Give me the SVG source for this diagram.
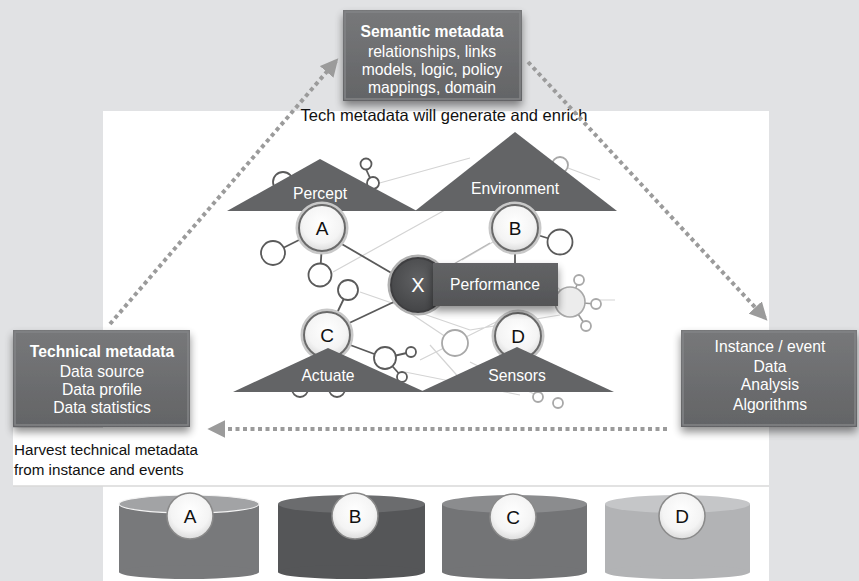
<svg xmlns="http://www.w3.org/2000/svg" width="859" height="581" viewBox="0 0 859 581">
<defs>
<style>
.bt{font-family:"Liberation Sans",Arial,sans-serif;font-size:15.7px;fill:#fff;text-anchor:middle}
.bold{font-weight:bold}
.lbl{font-family:"Liberation Sans",Arial,sans-serif;font-size:15.2px;fill:#111}
.cl{font-family:"Liberation Sans",Arial,sans-serif;font-size:19px;fill:#111;text-anchor:middle}
.tri{fill:#636466}
.nc{fill:#fff;stroke:#5a5a5a;stroke-width:1.8}
.lc{fill:#fff;stroke:#a8a8a8;stroke-width:1.8}
.dl{stroke:#5a5a5a;stroke-width:1.8;fill:none}
.ll{stroke:#d4d4d4;stroke-width:1.2;fill:none}
.dot{stroke:#9b9b9b;stroke-width:4;stroke-dasharray:4 3.5;fill:none}
.ring{fill:url(#wg);stroke:#6a6a6a;stroke-width:2}
.ringo{fill:none;stroke:#c8c8c8;stroke-width:3}
</style>
<linearGradient id="bx" x1="0" y1="0" x2="0" y2="1">
<stop offset="0" stop-color="#77787a"/><stop offset="1" stop-color="#636466"/>
</linearGradient>
<linearGradient id="bx2" x1="0" y1="0" x2="0" y2="1">
<stop offset="0" stop-color="#636466"/><stop offset="1" stop-color="#545557"/>
</linearGradient>
<radialGradient id="wg" cx="0.5" cy="0.4" r="0.6">
<stop offset="0" stop-color="#ffffff"/><stop offset="0.7" stop-color="#f4f4f4"/><stop offset="1" stop-color="#dcdcdc"/>
</radialGradient>
<radialGradient id="xg" cx="0.5" cy="0.4" r="0.6">
<stop offset="0" stop-color="#606163"/><stop offset="1" stop-color="#444547"/>
</radialGradient>
<filter id="sh" x="-20%" y="-20%" width="140%" height="150%">
<feGaussianBlur in="SourceAlpha" stdDeviation="4"/>
<feOffset dx="0" dy="5" result="b"/>
<feComponentTransfer><feFuncA type="linear" slope="0.45"/></feComponentTransfer>
<feMerge><feMergeNode/><feMergeNode in="SourceGraphic"/></feMerge>
</filter>
<marker id="ah" viewBox="0 0 10 10" refX="8" refY="5" markerWidth="4.5" markerHeight="4.5" orient="auto" markerUnits="strokeWidth">
<path d="M0,0 L10,5 L0,10 z" fill="#9b9b9b"/>
</marker>
</defs>

<!-- background -->
<rect x="0" y="0" width="859" height="581" fill="#e1e2e4"/>
<rect x="103" y="111" width="666" height="470" fill="#ffffff"/>
<rect x="13" y="428" width="756" height="58" fill="#ffffff"/>
<line x1="13" y1="486" x2="769" y2="486" stroke="#d8d8d8" stroke-width="1.5"/>

<!-- network background -->
<g id="network">
<path class="ll" d="M376 184 L470 158 M333 272 L445 210 M360 292 L470 330 M395 303 L455 343 M420 360 L500 320 M405 372 L520 395 M462 260 L505 235 M540 270 L570 300 M470 330 L560 315 M600 300 L615 300 M430 345 L470 390 M560 165 L600 180 M470 362 L540 397"/>
<line class="dl" x1="323" y1="228" x2="273" y2="253"/>
<line class="dl" x1="323" y1="228" x2="320" y2="275"/>
<line class="dl" x1="340" y1="243" x2="400" y2="278"/>
<line class="dl" x1="515" y1="228" x2="560" y2="242"/>
<line class="dl" x1="515" y1="250" x2="515" y2="265"/>
<line class="dl" x1="326" y1="336" x2="348" y2="290"/>
<line class="dl" x1="345" y1="325" x2="398" y2="300"/>
<line class="dl" x1="326" y1="336" x2="385" y2="358"/>
<line class="dl" x1="385" y1="358" x2="411" y2="352"/>
<line class="dl" x1="385" y1="358" x2="402" y2="377"/>
<line class="ll" x1="490" y1="243" x2="440" y2="272" style="stroke:#b8b8b8"/>
<path d="M570 302 L579 280 M570 302 L596 304 M570 302 L586 326" stroke="#9a9a9a" stroke-width="1.6"/>
<circle cx="283" cy="182" r="10" class="nc"/>
<circle cx="366" cy="164" r="5.5" class="nc"/>
<circle cx="373" cy="183" r="6" class="nc"/>
<line class="dl" x1="366" y1="169" x2="370" y2="178"/>
<circle cx="560" cy="165" r="8" class="lc"/>
<circle cx="273" cy="253" r="12" class="nc"/>
<circle cx="320" cy="275" r="11.5" class="nc"/>
<circle cx="348" cy="290" r="10" class="nc"/>
<circle cx="385" cy="358" r="11" class="nc"/>
<circle cx="411" cy="352" r="5" class="nc"/>
<circle cx="402" cy="377" r="5" class="nc"/>
<circle cx="300" cy="389" r="8" class="nc"/>
<circle cx="337" cy="389" r="8" class="nc"/>
<circle cx="560" cy="242" r="12.5" class="nc"/>
<circle cx="570" cy="302" r="15" fill="#ececec" stroke="#a8a8a8" stroke-width="1.6"/>
<circle cx="579" cy="280" r="5" class="lc"/>
<circle cx="596" cy="304" r="5" class="lc"/>
<circle cx="586" cy="326" r="5" class="lc"/>
<circle cx="455" cy="343" r="13" class="lc"/>
<circle cx="538" cy="397" r="5" class="lc"/>
<circle cx="558" cy="403" r="5" class="lc"/>
</g>

<!-- triangles -->
<g id="percept"><polygon class="tri" points="320,159 227,211 417,211"/><text class="bt" x="320" y="199">Percept</text></g>
<g id="environment"><polygon class="tri" points="515,132 415,211 617,211"/><text class="bt" x="515" y="194">Environment</text></g>

<!-- node circles -->
<g id="nodeA"><circle cx="322" cy="228" r="25" class="ringo"/><circle cx="322" cy="228" r="23" class="ring"/><text class="cl" x="322" y="235">A</text></g>
<g id="nodeB"><circle cx="515" cy="228" r="25" class="ringo"/><circle cx="515" cy="228" r="23" class="ring"/><text class="cl" x="515" y="235">B</text></g>
<g id="nodeC"><circle cx="327" cy="335" r="25" class="ringo"/><circle cx="327" cy="335" r="23" class="ring"/><text class="cl" x="327" y="342">C</text></g>
<g id="nodeD"><circle cx="518" cy="336" r="25" class="ringo"/><circle cx="518" cy="336" r="23" class="ring"/><text class="cl" x="518" y="343">D</text></g>

<g id="actuate"><polygon class="tri" points="328,348 233,392 425,392"/><text class="bt" x="328" y="381">Actuate</text></g>
<g id="sensors"><polygon class="tri" points="517,347 420,392 614,392"/><text class="bt" x="517" y="381">Sensors</text></g>

<g id="nodeX"><circle cx="418" cy="285" r="29" fill="none" stroke="#b0b0b0" stroke-width="3"/><circle cx="418" cy="285" r="27" fill="url(#xg)" stroke="#3e3e40" stroke-width="2"/><text class="bt" x="418" y="292" style="font-size:20px">X</text></g>
<g id="performance"><rect x="433" y="263" width="125" height="43" fill="url(#bx2)" filter="url(#sh)"/><text class="bt" x="495" y="290">Performance</text></g>

<!-- metadata boxes -->
<g id="semantic">
<rect x="343" y="10" width="179" height="91" fill="url(#bx)" filter="url(#sh)"/>
<rect x="345" y="12" width="175" height="87" fill="none" stroke="#838486" stroke-width="1.5"/>
<text class="bt bold" x="432" y="37">Semantic metadata</text>
<text class="bt" x="432" y="57">relationships, links</text>
<text class="bt" x="432" y="75">models, logic, policy</text>
<text class="bt" x="432" y="93">mappings, domain</text>
</g>
<text class="lbl" x="444" y="121" text-anchor="middle" style="font-size:16.5px">Tech metadata will generate and enrich</text>

<g id="technical">
<rect x="13" y="330" width="177" height="97" fill="url(#bx)" filter="url(#sh)"/>
<rect x="15" y="332" width="173" height="93" fill="none" stroke="#838486" stroke-width="1.5"/>
<text class="bt bold" x="102" y="357">Technical metadata</text>
<text class="bt" x="102" y="377">Data source</text>
<text class="bt" x="102" y="395">Data profile</text>
<text class="bt" x="102" y="413">Data statistics</text>
</g>
<text class="lbl" x="14" y="455">Harvest technical metadata</text>
<text class="lbl" x="14" y="475">from instance and events</text>

<g id="instance">
<rect x="681" y="330" width="176" height="97" fill="url(#bx)" filter="url(#sh)"/>
<rect x="683" y="332" width="172" height="93" fill="none" stroke="#838486" stroke-width="1.5"/>
<text class="bt" x="770" y="352">Instance / event</text>
<text class="bt" x="770" y="372">Data</text>
<text class="bt" x="770" y="390">Analysis</text>
<text class="bt" x="770" y="410">Algorithms</text>
</g>

<!-- connectors -->
<g id="connectors">
<line class="dot" x1="110" y1="324" x2="336" y2="61" marker-end="url(#ah)"/>
<line class="dot" x1="528" y1="62" x2="765" y2="318" marker-end="url(#ah)"/>
<line class="dot" x1="667" y1="429" x2="211" y2="429" marker-end="url(#ah)"/>
</g>

<!-- cylinders -->
<g id="dbA">
<rect x="119" y="504" width="140" height="68" fill="#78797b"/>
<ellipse cx="189" cy="572" rx="70" ry="7" fill="#78797b"/>
<ellipse cx="189" cy="504" rx="70" ry="9" fill="#a2a3a5" stroke="#f4f4f4" stroke-width="1.2"/>
<circle cx="190" cy="516" r="23" fill="url(#wg)" stroke="#8a8a8a" stroke-width="1.5"/>
<text class="cl" x="190" y="523">A</text>
</g>
<g id="dbB">
<rect x="278" y="504" width="147" height="68" fill="#555658"/>
<ellipse cx="351.5" cy="572" rx="73.5" ry="7" fill="#555658"/>
<ellipse cx="351.5" cy="504" rx="73.5" ry="9" fill="#6b6c6e"/>
<circle cx="355" cy="516" r="23" fill="url(#wg)" stroke="#8a8a8a" stroke-width="1.5"/>
<text class="cl" x="355" y="523">B</text>
</g>
<g id="dbC">
<rect x="442" y="504" width="145" height="68" fill="#737476"/>
<ellipse cx="514.5" cy="572" rx="72.5" ry="7" fill="#737476"/>
<ellipse cx="514.5" cy="504" rx="72.5" ry="9" fill="#8b8c8e"/>
<circle cx="513" cy="517" r="23" fill="url(#wg)" stroke="#8a8a8a" stroke-width="1.5"/>
<text class="cl" x="513" y="524">C</text>
</g>
<g id="dbD">
<rect x="605" y="504" width="145" height="68" fill="#b2b3b5"/>
<ellipse cx="677.5" cy="572" rx="72.5" ry="7" fill="#b2b3b5"/>
<ellipse cx="677.5" cy="504" rx="72.5" ry="9" fill="#c5c6c8"/>
<circle cx="682" cy="516" r="23" fill="url(#wg)" stroke="#8a8a8a" stroke-width="1.5"/>
<text class="cl" x="682" y="523">D</text>
</g>
</svg>
